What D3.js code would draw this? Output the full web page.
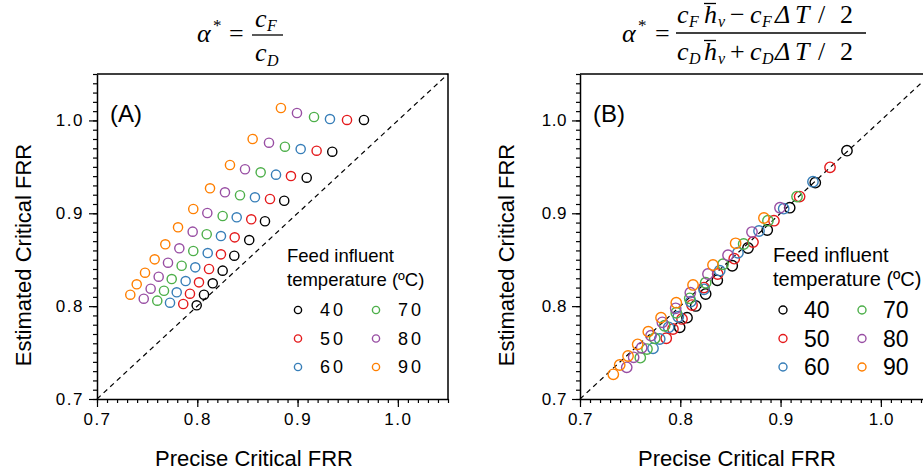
<!DOCTYPE html>
<html>
<head>
<meta charset="utf-8">
<script src="https://cdn.jsdelivr.net/npm/d3@7"></script>
<style>
  body { margin: 0; background: #fff; }
  text { font-family: "Liberation Sans", Arial, sans-serif; }
  .math { font-family: "Liberation Serif", "DejaVu Serif", serif; font-style: italic; }
</style>
</head>
<body>
<script>
// SVG size
var svgWidth = 923;
var svgHeight = 472;

// Series: feed influent temperature (ºC)
var temps = ["40", "50", "60", "70", "80", "90"];
var colors = ["#000000", "#e41a1c", "#377eb8", "#4daf4a", "#984ea3", "#ff7f00"];

// Precise critical FRR (same for both panels), one array per temperature
var precise40 = [0.7994, 0.8067, 0.8154, 0.8253, 0.8369, 0.8518, 0.8675, 0.8867, 0.9091, 0.9346, 0.9662];
var precise50 = [0.7860, 0.7927, 0.8017, 0.8117, 0.8236, 0.8373, 0.8538, 0.8725, 0.8934, 0.9190, 0.9493];
var precise60 = [0.7728, 0.7795, 0.7884, 0.7980, 0.8104, 0.8236, 0.8393, 0.8575, 0.8785, 0.9031, 0.9323];
var precise70 = [0.7601, 0.7668, 0.7745, 0.7844, 0.7960, 0.8094, 0.8253, 0.8426, 0.8632, 0.8874, 0.9164];
var precise80 = [0.7466, 0.7535, 0.7615, 0.7708, 0.7821, 0.7954, 0.8100, 0.8276, 0.8476, 0.8715, 0.8994];
var precise90 = [0.7332, 0.7396, 0.7479, 0.7575, 0.7681, 0.7808, 0.7960, 0.8127, 0.8326, 0.8552, 0.8834];

// (A) estimated with alpha* = cF/cD
var estA40 = [0.8009, 0.8123, 0.8246, 0.8382, 0.8543, 0.8712, 0.8914, 0.9135, 0.9383, 0.9663, 1.0005];
var estA50 = [0.8023, 0.8134, 0.8256, 0.8400, 0.8558, 0.8741, 0.8935, 0.9154, 0.9401, 0.9674, 1.0005];
var estA60 = [0.8037, 0.8149, 0.8270, 0.8418, 0.8572, 0.8755, 0.8957, 0.9172, 0.9416, 0.9692, 1.0015];
var estA70 = [0.8059, 0.8166, 0.8292, 0.8435, 0.8594, 0.8774, 0.8971, 0.9194, 0.9441, 0.9717, 1.0037];
var estA80 = [0.8080, 0.8188, 0.8317, 0.8468, 0.8623, 0.8802, 0.9003, 0.9226, 0.9474, 0.9760, 1.0080];
var estA90 = [0.8123, 0.8235, 0.8360, 0.8504, 0.8666, 0.8849, 0.9046, 0.9269, 0.9520, 0.9800, 1.0134];

// (B) estimated with the corrected alpha*
var estB40 = [0.7772, 0.7876, 0.8002, 0.8131, 0.8278, 0.8435, 0.8626, 0.8820, 0.9060, 0.9330, 0.9674];
var estB50 = [0.7654, 0.7754, 0.7862, 0.8012, 0.8200, 0.8346, 0.8511, 0.8690, 0.8920, 0.9180, 0.9495];
var estB60 = [0.7546, 0.7646, 0.7772, 0.7886, 0.8048, 0.8181, 0.8382, 0.8575, 0.8809, 0.9050, 0.9340];
var estB70 = [0.7445, 0.7538, 0.7654, 0.7789, 0.7929, 0.8084, 0.8252, 0.8451, 0.8669, 0.8920, 0.9180];
var estB80 = [0.7341, 0.7449, 0.7552, 0.7682, 0.7826, 0.7977, 0.8145, 0.8346, 0.8548, 0.8798, 0.9060];
var estB90 = [0.7266, 0.7366, 0.7463, 0.7589, 0.7725, 0.7876, 0.8037, 0.8228, 0.8443, 0.8677, 0.8949];

// Axis ticks
var majorTicks = [0.7, 0.8, 0.9, 1.0];
var minorTicks = d3.range(70, 106).map(d => d / 100);
var axisDomain = [0.7, 1.05];

var precise = [precise40, precise50, precise60, precise70, precise80, precise90];

var svg = d3.select("body")
  .append("svg")
  .attr("width", svgWidth)
  .attr("height", svgHeight);

var plotTop = 74, plotBottom = 399, plotSize = 351;

function drawPanel(opt) {
  var x = d3.scaleLinear().domain(axisDomain).range([opt.left, opt.left + plotSize]);
  var y = d3.scaleLinear().domain(axisDomain).range([plotBottom, plotTop]);
  var g = svg.append("g");

  // diagonal y = x
  g.append("line")
    .attr("x1", x(0.7)).attr("y1", y(0.7))
    .attr("x2", x(1.05)).attr("y2", y(1.05))
    .attr("stroke", "#000").attr("stroke-width", 1.2)
    .attr("stroke-dasharray", "5,4");

  // points
  opt.est.forEach(function(series, i) {
    g.selectAll(null)
      .data(series.map((v, j) => [precise[i][j], v]))
      .enter()
      .append("circle")
      .attr("cx", d => x(d[0]))
      .attr("cy", d => y(d[1]))
      .attr("r", opt.r)
      .attr("fill", "none")
      .attr("stroke", colors[i])
      .attr("stroke-width", 1.4);
  });

  // top and right frame
  g.append("path")
    .attr("d", `M${x(0.7)},${y(1.05)}H${x(1.05)}V${y(0.7)}`)
    .attr("fill", "none").attr("stroke", "#000").attr("stroke-width", 1.5);

  // minor ticks
  g.append("g")
    .attr("transform", `translate(0,${plotBottom})`)
    .call(d3.axisBottom(x).tickValues(minorTicks).tickSize(4).tickSizeOuter(0).tickFormat(""))
    .call(a => a.select(".domain").remove());
  g.append("g")
    .attr("transform", `translate(${opt.left},0)`)
    .call(d3.axisLeft(y).tickValues(minorTicks).tickSize(4).tickSizeOuter(0).tickFormat(""))
    .call(a => a.select(".domain").remove());

  // major ticks + labels
  var xa = g.append("g")
    .attr("transform", `translate(0,${plotBottom})`)
    .call(d3.axisBottom(x).tickValues(majorTicks).tickSize(8).tickSizeOuter(0).tickPadding(6).tickFormat(d3.format(".1f")));
  var ya = g.append("g")
    .attr("transform", `translate(${opt.left},0)`)
    .call(d3.axisLeft(y).tickValues(majorTicks).tickSize(8).tickSizeOuter(0).tickPadding(5).tickFormat(d3.format(".1f")));
  [xa, ya].forEach(function(a) {
    a.selectAll("text")
      .attr("font-family", "Liberation Sans, Arial, sans-serif")
      .attr("font-size", 17)
      .style("letter-spacing", opt.spacing + "px")
      .attr("fill", "#000");
    a.selectAll("line, path").attr("stroke", "#000").attr("stroke-width", 1.5);
  });
  svg.selectAll(".tick line").attr("stroke-width", 1.2);

  // axis titles
  svg.append("text")
    .attr("x", opt.left + 157).attr("y", 466)
    .attr("text-anchor", "middle").attr("font-size", 22)
    .text("Precise Critical FRR");
  svg.append("text")
    .attr("transform", `translate(${opt.left - 66},255) rotate(-90)`)
    .attr("text-anchor", "middle").attr("font-size", 22)
    .text("Estimated Critical FRR");

  // panel label
  svg.append("text")
    .attr("x", opt.left + 13).attr("y", 122)
    .attr("font-size", 24)
    .text(opt.label);

  // legend
  var lg = svg.append("g");
  lg.append("text").attr("x", opt.legX).attr("y", 262).attr("font-size", opt.legTitle).text("Feed influent");
  lg.append("text").attr("x", opt.legX).attr("y", 286).attr("font-size", opt.legTitle).text("temperature (ºC)");
  temps.forEach(function(t, i) {
    var col = Math.floor(i / 3), row = i % 3;
    var mx = opt.legMarkX + col * opt.legColW;
    var my = 310 + row * 28.5;
    lg.append("circle")
      .attr("cx", mx).attr("cy", my).attr("r", opt.legR)
      .attr("fill", "none").attr("stroke", colors[i]).attr("stroke-width", 1.4);
    lg.append("text")
      .attr("x", mx + opt.legTextDx).attr("y", my + opt.legFont * 0.36)
      .attr("font-size", opt.legFont)
      .style("letter-spacing", opt.legSpacing + "px")
      .text(t);
  });
}

drawPanel({
  left: 97, label: "(A)", r: 4.6, spacing: 1.5,
  est: [estA40, estA50, estA60, estA70, estA80, estA90],
  legX: 287, legMarkX: 298, legColW: 78, legR: 3.6, legTextDx: 22, legFont: 18, legSpacing: 3, legTitle: 18.5
});
drawPanel({
  left: 580, label: "(B)", r: 5.2, spacing: 0.5,
  est: [estB40, estB50, estB60, estB70, estB80, estB90],
  legX: 773, legMarkX: 783, legColW: 79, legR: 4, legTextDx: 21, legFont: 23, legSpacing: 0, legTitle: 20
});

// formula titles
function mt(x, y, s, size, italic) {
  return svg.append("text")
    .attr("class", "math")
    .attr("x", x).attr("y", y)
    .attr("font-size", size)
    .style("font-style", italic === false ? "normal" : "italic")
    .text(s);
}
function bar(x1, x2, yy) {
  svg.append("line").attr("x1", x1).attr("x2", x2).attr("y1", yy).attr("y2", yy)
    .attr("stroke", "#000").attr("stroke-width", 1.3);
}

// (A) alpha* = cF / cD
mt(197, 42, "α", 26);
mt(213, 31, "*", 17, false);
mt(229, 42, "=", 26, false);
bar(252, 283, 35);
mt(255, 27, "c", 26); mt(267, 31, "F", 16);
mt(255, 61, "c", 26); mt(267, 66, "D", 16);

// (B) alpha* = cF/cD * (hv - cF dT/2) / (hv + cD dT/2)
mt(622, 42, "α", 26);
mt(638, 31, "*", 17, false);
mt(655, 42, "=", 26, false);
bar(676, 866, 33);
// numerator
mt(677, 23, "c", 26); mt(689, 27, "F", 16);
mt(704, 23, "h", 26); bar(704, 716, 3.5); mt(718, 27, "v", 16);
mt(730, 23, "−", 26, false);
mt(750, 23, "c", 26); mt(762, 27, "F", 16);
mt(775, 23, "Δ", 26); mt(795, 23, "T", 26); mt(818, 23, "/", 26, false); mt(840, 23, "2", 26, false);
// denominator
mt(677, 60, "c", 26); mt(689, 64, "D", 16);
mt(704, 60, "h", 26); bar(704, 716, 40.5); mt(718, 64, "v", 16);
mt(730, 60, "+", 26, false);
mt(750, 60, "c", 26); mt(762, 64, "D", 16);
mt(775, 60, "Δ", 26); mt(795, 60, "T", 26); mt(818, 60, "/", 26, false); mt(840, 60, "2", 26, false);
</script>
</body>
</html>
